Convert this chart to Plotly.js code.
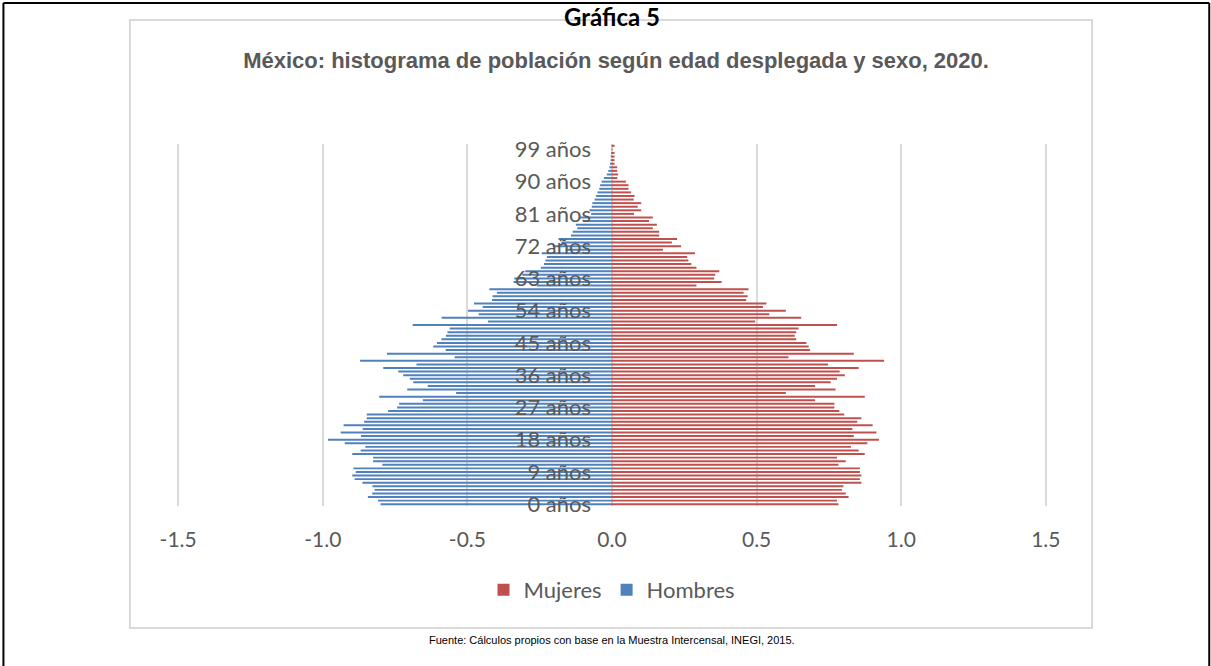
<!DOCTYPE html>
<html>
<head>
<meta charset="utf-8">
<script src="https://cdn.plot.ly/plotly-3.0.1.min.js"></script>
<style>
  html, body { margin: 0; padding: 0; background: #ffffff; }
  #chart { width: 1211px; height: 666px; }
</style>
</head>
<body>
<div id="chart"></div>
<script>
// Ages (categories), 0 .. 100
const ages = [0,1,2,3,4,5,6,7,8,9,10,11,12,13,14,15,16,17,18,19,20,21,22,23,24,25,26,27,28,29,30,31,32,33,34,35,36,37,38,39,40,41,42,43,44,45,46,47,48,49,50,51,52,53,54,55,56,57,58,59,60,61,62,63,64,65,66,67,68,69,70,71,72,73,74,75,76,77,78,79,80,81,82,83,84,85,86,87,88,89,90,91,92,93,94,95,96,97,98,99,100];

// Mujeres (percent of population), age 0 .. 100
const mujeres = [0.783,0.778,0.818,0.808,0.795,0.800,0.862,0.857,0.862,0.857,
                 0.857,0.783,0.808,0.778,0.874,0.853,0.826,0.883,0.923,0.836,
                 0.914,0.831,0.901,0.848,0.862,0.803,0.786,0.769,0.769,0.702,
                 0.874,0.601,0.773,0.702,0.756,0.778,0.805,0.787,0.853,0.747,
                 0.941,0.610,0.836,0.685,0.680,0.672,0.637,0.632,0.637,0.645,
                 0.778,0.495,0.654,0.544,0.601,0.522,0.534,0.464,0.469,0.455,
                 0.472,0.292,0.379,0.353,0.357,0.371,0.292,0.274,0.264,0.260,
                 0.287,0.176,0.239,0.207,0.225,0.163,0.163,0.141,0.155,0.128,
                 0.141,0.076,0.101,0.089,0.101,0.075,0.078,0.066,0.057,0.057,
                 0.048,0.018,0.021,0.018,0.018,0.009,0.009,0.009,0.009,0.002,
                 0.009];

// Hombres (percent of population, drawn to the left), age 0 .. 100
const hombres = [-0.800,-0.809,-0.844,-0.829,-0.821,-0.828,-0.863,-0.890,-0.898,-0.886,
                 -0.894,-0.794,-0.826,-0.826,-0.898,-0.869,-0.853,-0.924,-0.982,-0.868,
                 -0.938,-0.862,-0.928,-0.857,-0.848,-0.848,-0.774,-0.743,-0.736,-0.654,
                 -0.805,-0.539,-0.708,-0.637,-0.687,-0.699,-0.722,-0.739,-0.791,-0.676,
                 -0.871,-0.544,-0.778,-0.575,-0.618,-0.605,-0.590,-0.574,-0.569,-0.561,
                 -0.689,-0.429,-0.589,-0.461,-0.498,-0.447,-0.477,-0.415,-0.413,-0.398,
                 -0.424,-0.260,-0.340,-0.338,-0.310,-0.300,-0.246,-0.235,-0.230,-0.225,
                 -0.243,-0.160,-0.205,-0.175,-0.185,-0.142,-0.136,-0.120,-0.125,-0.100,
                 -0.110,-0.072,-0.078,-0.070,-0.068,-0.060,-0.055,-0.050,-0.044,-0.041,
                 -0.036,-0.028,-0.018,-0.013,-0.009,-0.007,-0.005,-0.004,-0.003,-0.002,
                 -0.002];

// Tick labels
const yTickVals = [0,9,18,27,36,45,54,63,72,81,90,99];
const yTickText = ["0 años","9 años","18 años","27 años","36 años","45 años","54 años","63 años","72 años","81 años","90 años","99 años"];
const xTickVals = [-1.5,-1.0,-0.5,0.0,0.5,1.0,1.5];
const xTickText = ["-1.5","-1.0","-0.5","0.0","0.5","1.0","1.5"];

const gray = "#595959";
const labelFamily = "Lato, 'Open Sans', sans-serif";

const traces = [
  {type: "bar", orientation: "h", name: "Mujeres", x: mujeres, y: ages,
   marker: {color: "#C0504D"}, hoverinfo: "skip"},
  {type: "bar", orientation: "h", name: "Hombres", x: hombres, y: ages,
   marker: {color: "#4F81BD"}, hoverinfo: "skip"}
];

const layout = {
  width: 1211, height: 666,
  margin: {l: 177, r: 164, t: 144, b: 160, pad: 0},
  paper_bgcolor: "#ffffff", plot_bgcolor: "rgba(0,0,0,0)",
  barmode: "relative", bargap: 0.45,
  showlegend: true,
  legend: {orientation: "h", x: 0.5, xanchor: "center", y: -0.232, yanchor: "middle",
           font: {family: labelFamily, size: 22, color: gray},
           traceorder: "normal", itemwidth: 30},
  title: {text: "<b>México: histograma de población según edad desplegada y sexo, 2020.</b>",
          x: 0.5087, xanchor: "center", y: 0.91, yanchor: "middle",
          font: {family: "'Liberation Sans Narrow', 'Arial Narrow', 'Liberation Sans', sans-serif", size: 22, color: gray}},
  xaxis: {range: [-1.504, 1.504], tickvals: xTickVals, ticktext: xTickText,
          showgrid: true, gridcolor: "#D9D9D9", gridwidth: 2, zeroline: false,
          showline: false, ticks: "", ticklabelstandoff: 19,
          tickfont: {family: labelFamily, size: 21, color: gray}, fixedrange: true},
  yaxis: {range: [-0.5, 100.5], tickvals: yTickVals, ticktext: yTickText,
          anchor: "free", position: 0.5, side: "left",
          showgrid: false, zeroline: false, showline: false, ticks: "",
          ticklabelstandoff: 21, tickfont: {family: labelFamily, size: 22, color: gray},
          fixedrange: true},
  shapes: [
    // inner chart box
    {type: "rect", xref: "paper", yref: "paper", x0: -0.0541, x1: 1.0518, y0: -0.337, y1: 1.3425,
     line: {color: "#D9D9D9", width: 2}, fillcolor: "rgba(0,0,0,0)", layer: "below"},
    // outer black frame (left, top, right)
    {type: "line", xref: "paper", yref: "paper", x0: -0.1995, x1: -0.1995, y0: -0.5, y1: 1.3895,
     line: {color: "#000000", width: 2}},
    {type: "line", xref: "paper", yref: "paper", x0: -0.1995, x1: 1.1865, y0: 1.3895, y1: 1.3895,
     line: {color: "#000000", width: 2}},
    {type: "line", xref: "paper", yref: "paper", x0: 1.1865, x1: 1.1865, y0: -0.5, y1: 1.3895,
     line: {color: "#000000", width: 2}}
  ],
  annotations: [
    {text: "<b>Gráfica 5</b>", xref: "paper", yref: "paper", x: 0.5, y: 1.352,
     xanchor: "center", yanchor: "middle", showarrow: false,
     font: {family: labelFamily, size: 24, color: "#000000"}},
    {text: "Fuente: Cálculos propios con base en la Muestra Intercensal, INEGI, 2015.",
     xref: "paper", yref: "paper", x: 0.5, y: -0.370, xanchor: "center", yanchor: "middle",
     showarrow: false,
     font: {family: "'Liberation Sans Narrow', 'Arial Narrow', 'Liberation Sans', sans-serif", size: 11, color: "#000000"}}
  ]
};

Plotly.newPlot("chart", traces, layout, {displayModeBar: false, staticPlot: true});
</script>
</body>
</html>
